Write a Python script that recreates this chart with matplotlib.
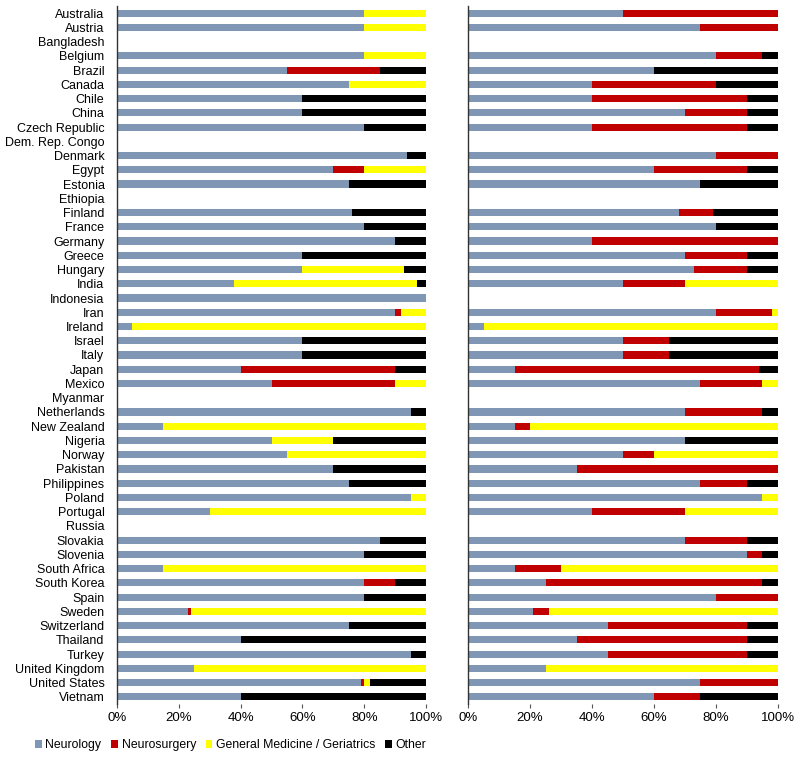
import matplotlib
matplotlib.use("Agg")
import matplotlib.pyplot as plt
from matplotlib.patches import Patch
from matplotlib.ticker import FuncFormatter

countries = ["Australia", "Austria", "Bangladesh", "Belgium", "Brazil", "Canada", "Chile", "China",
             "Czech Republic", "Dem. Rep. Congo", "Denmark", "Egypt", "Estonia", "Ethiopia", "Finland",
             "France", "Germany", "Greece", "Hungary", "India", "Indonesia", "Iran", "Ireland", "Israel",
             "Italy", "Japan", "Mexico", "Myanmar", "Netherlands", "New Zealand", "Nigeria", "Norway",
             "Pakistan", "Philippines", "Poland", "Portugal", "Russia", "Slovakia", "Slovenia",
             "South Africa", "South Korea", "Spain", "Sweden", "Switzerland", "Thailand", "Turkey",
             "United Kingdom", "United States", "Vietnam"]

series_names = ["Neurology", "Neurosurgery", "General Medicine / Geriatrics", "Other"]
colors = ["#7F96B4", "#C00000", "#FFFF00", "#000000"]

# Left panel
left_neuro = [80, 80, 0, 80, 55, 75, 60, 60, 80, 0, 94, 70, 75, 0, 76, 80, 90, 60, 60, 38, 100, 90, 5, 60,
              60, 40, 50, 0, 95, 15, 50, 55, 70, 75, 95, 30, 0, 85, 80, 15, 80, 80, 23, 75, 40, 95, 25, 79, 40]
left_nsurg = [0, 0, 0, 0, 30, 0, 0, 0, 0, 0, 0, 10, 0, 0, 0, 0, 0, 0, 0, 0, 0, 2, 0, 0,
              0, 50, 40, 0, 0, 0, 0, 0, 0, 0, 0, 0, 0, 0, 0, 0, 10, 0, 1, 0, 0, 0, 0, 1, 0]
left_genmed = [20, 20, 0, 20, 0, 25, 0, 0, 0, 0, 0, 20, 0, 0, 0, 0, 0, 0, 33, 59, 0, 8, 95, 0,
               0, 0, 10, 0, 0, 85, 20, 45, 0, 0, 5, 70, 0, 0, 0, 85, 0, 0, 76, 0, 0, 0, 75, 2, 0]
left_other = [0, 0, 0, 0, 15, 0, 40, 40, 20, 0, 6, 0, 25, 0, 24, 20, 10, 40, 7, 3, 0, 0, 0, 40,
              40, 10, 0, 0, 5, 0, 30, 0, 30, 25, 0, 0, 0, 15, 20, 0, 10, 20, 0, 25, 60, 5, 0, 18, 60]

# Right panel
right_neuro = [50, 75, 0, 80, 60, 40, 40, 70, 40, 0, 80, 60, 75, 0, 68, 80, 40, 70, 73, 50, 0, 80, 5, 50,
               50, 15, 75, 0, 70, 15, 70, 50, 35, 75, 95, 40, 0, 70, 90, 15, 25, 80, 21, 45, 35, 45, 25, 75, 60]
right_nsurg = [50, 25, 0, 15, 0, 40, 50, 20, 50, 0, 20, 30, 0, 0, 11, 0, 60, 20, 17, 20, 0, 18, 0, 15,
               15, 79, 20, 0, 25, 5, 0, 10, 65, 15, 0, 30, 0, 20, 5, 15, 70, 20, 5, 45, 55, 45, 0, 25, 15]
right_genmed = [0, 0, 0, 0, 0, 0, 0, 0, 0, 0, 0, 0, 0, 0, 0, 0, 0, 0, 0, 30, 0, 2, 95, 0,
                0, 0, 5, 0, 0, 80, 0, 40, 0, 0, 5, 30, 0, 0, 0, 70, 0, 0, 74, 0, 0, 0, 75, 0, 0]
right_other = [0, 0, 0, 5, 40, 20, 10, 10, 10, 0, 0, 10, 25, 0, 21, 20, 0, 10, 10, 0, 0, 0, 0, 35,
               35, 6, 0, 0, 5, 0, 30, 0, 0, 10, 0, 0, 0, 10, 5, 0, 5, 0, 0, 10, 10, 10, 0, 0, 25]

plt.rcParams['font.family'] = ['Liberation Sans', 'DejaVu Sans']

fig = plt.figure(figsize=(8, 7.59), dpi=100)
ax1 = fig.add_axes([0.14625, 0.0725, 0.38625, 0.9196])
ax2 = fig.add_axes([0.585, 0.0725, 0.3875, 0.9196])

ypos = list(range(len(countries)))

def draw(ax, data):
    left = [0] * len(countries)
    for vals, col in zip(data, colors):
        ax.barh(ypos, vals, left=left, height=0.5, color=col, linewidth=0)
        left = [a + b for a, b in zip(left, vals)]
    ax.set_xlim(0, 100)
    ax.set_ylim(len(countries) - 0.5, -0.5)
    ax.set_xticks([0, 20, 40, 60, 80, 100])
    ax.xaxis.set_major_formatter(FuncFormatter(lambda v, p: f"{int(v)}%"))
    for s in ["top", "right", "bottom"]:
        ax.spines[s].set_visible(False)
    ax.spines["left"].set_linewidth(1.0)
    ax.spines["left"].set_color("#333333")
    ax.tick_params(axis="x", length=3, width=0.8, color="#555555", labelsize=9.5, pad=3)
    ax.tick_params(axis="y", length=0, labelsize=9, pad=9)

draw(ax1, [left_neuro, left_nsurg, left_genmed, left_other])
draw(ax2, [right_neuro, right_nsurg, right_genmed, right_other])
ax1.set_yticks(ypos)
ax1.set_yticklabels(countries)
ax2.set_yticks([])

handles = [Patch(facecolor=c, edgecolor="none") for c in colors]
fig.legend(handles, series_names, loc="center left", bbox_to_anchor=(0.033, 0.018), ncol=4,
           frameon=False, fontsize=8.8, handlelength=0.55, handleheight=0.55,
           handletextpad=0.3, columnspacing=0.8, borderpad=0.2)

fig.savefig("out.png", dpi=100)
